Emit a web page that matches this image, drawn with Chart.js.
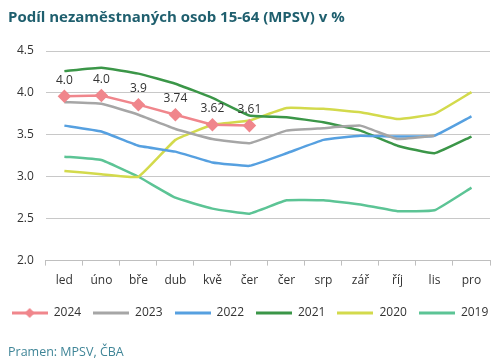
<!DOCTYPE html>
<html>
<head>
<meta charset="utf-8">
<script src="https://cdn.jsdelivr.net/npm/chart.js@4/dist/chart.umd.min.js"></script>
<style>
  body { margin: 0; background: #fff; }
  #wrap { position: relative; width: 500px; height: 361px; font-family: 'Open Sans', sans-serif; }
  #title { position: absolute; left: 8px; top: 6px; font-size: 15px; font-weight: bold; color: #1f5f6e; }
  #source { position: absolute; left: 8px; top: 343px; font-size: 12.5px; color: #3f8597; }
  canvas { position: absolute; left: 0; top: 0; }
</style>
</head>
<body>
<div id="wrap">
  <canvas id="chart" width="500" height="361"></canvas>
  <div id="title">Podíl nezaměstnaných osob 15-64 (MPSV) v %</div>
  <div id="source">Pramen: MPSV, ČBA</div>
</div>
<script>
const months = ['led', 'úno', 'bře', 'dub', 'kvě', 'čer', 'čer', 'srp', 'zář', 'říj', 'lis', 'pro']
const y2024 = [3.96, 3.97, 3.86, 3.74, 3.62, 3.61, null, null, null, null, null, null]
const labels2024 = ['4.0', '4.0', '3.9', '3.74', '3.62', '3.61']
const y2023 = [3.89, 3.87, 3.74, 3.57, 3.45, 3.40, 3.55, 3.58, 3.61, 3.45, 3.49, null]
const y2022 = [3.61, 3.54, 3.37, 3.30, 3.17, 3.13, 3.28, 3.44, 3.49, 3.48, 3.49, 3.72]
const y2021 = [4.26, 4.30, 4.23, 4.11, 3.94, 3.73, 3.71, 3.65, 3.55, 3.37, 3.28, 3.48]
const y2020 = [3.07, 3.03, 3.00, 3.44, 3.62, 3.67, 3.82, 3.81, 3.77, 3.69, 3.75, 4.01]
const y2019 = [3.24, 3.20, 3.00, 2.75, 2.62, 2.56, 2.72, 2.72, 2.67, 2.59, 2.60, 2.87]
const yTicks = [2.0, 2.5, 3.0, 3.5, 4.0, 4.5]

const colors = {
  2024: '#f0868c',
  2023: '#a6a6a6',
  2022: '#56a0e0',
  2021: '#3b9648',
  2020: '#d3da4c',
  2019: '#5cc495'
}

// small legend swatch: line with optional diamond
function swatch (color, marker) {
  const c = document.createElement('canvas')
  c.width = 36
  c.height = 12
  const ctx = c.getContext('2d')
  ctx.strokeStyle = color
  ctx.lineWidth = 3
  ctx.beginPath()
  ctx.moveTo(0, 6)
  ctx.lineTo(36, 6)
  ctx.stroke()
  if (marker) {
    ctx.fillStyle = color
    ctx.beginPath()
    ctx.moveTo(18, 1)
    ctx.lineTo(23, 6)
    ctx.lineTo(18, 11)
    ctx.lineTo(13, 6)
    ctx.closePath()
    ctx.fill()
  }
  return c
}

function series (label, data, color) {
  return {
    label: label,
    data: data,
    borderColor: color,
    backgroundColor: color,
    borderWidth: 2.5,
    pointRadius: 0,
    tension: 0.1,
    spanGaps: false
  }
}

const ds2024 = series('2024', y2024, colors[2024])
ds2024.pointStyle = 'rectRot'
ds2024.pointRadius = 5
ds2024.pointHoverRadius = 5
ds2024.tension = 0
ds2024.order = 0

const datasets = [
  ds2024,
  series('2023', y2023, colors[2023]),
  series('2022', y2022, colors[2022]),
  series('2021', y2021, colors[2021]),
  series('2020', y2020, colors[2020]),
  series('2019', y2019, colors[2019])
]

const valueLabels = {
  id: 'valueLabels',
  afterDatasetsDraw (chart) {
    const ctx = chart.ctx
    const meta = chart.getDatasetMeta(0)
    ctx.save()
    ctx.font = '12px "Open Sans", sans-serif'
    ctx.fillStyle = '#333'
    ctx.textAlign = 'center'
    ctx.textBaseline = 'bottom'
    labels2024.forEach((t, i) => {
      const p = meta.data[i]
      ctx.fillText(t, p.x, p.y - 10)
    })
    ctx.restore()
  }
}

// keep the legend on one row: give it more room than the canvas, still centred at 250
const wideLegend = {
  id: 'wideLegend',
  afterInit (chart) {
    const lg = chart.legend
    const fit = lg.fit
    lg.fit = function () {
      this.maxWidth = chart.width + 100
      fit.call(this)
    }
  },
  afterLayout (chart) {
    const lg = chart.legend
    lg.left = -50
    lg.right = chart.width + 50
    lg.width = chart.width + 100
  }
}

new Chart(document.getElementById('chart'), {
  type: 'line',
  data: { labels: months, datasets: datasets },
  options: {
    responsive: false,
    animation: false,
    layout: { padding: { top: 51, left: 5, right: 10, bottom: 32 } },
    plugins: {
      tooltip: { enabled: false },
      legend: {
        position: 'bottom',
        labels: {
          usePointStyle: true,
          pointStyleWidth: 36,
          padding: 12,
          color: '#333',
          font: { family: 'Open Sans', size: 12 },
          generateLabels (chart) {
            return chart.data.datasets.map((d, i) => ({
              text: d.label,
              pointStyle: swatch(d.borderColor, i === 0),
              fontColor: '#333',
              datasetIndex: i,
              hidden: false,
              lineWidth: 0
            }))
          }
        }
      }
    },
    scales: {
      x: {
        offset: true,
        grid: { offset: true, drawOnChartArea: false, drawTicks: true, tickLength: 5, color: '#bfbfbf' },
        border: { color: '#bfbfbf' },
        ticks: { color: '#333', font: { family: 'Open Sans', size: 12 }, padding: 8 },
        afterFit (axis) { axis.height -= 1 }
      },
      y: {
        min: 2.0,
        max: 4.5,
        afterBuildTicks (axis) { axis.ticks = yTicks.map(v => ({ value: v })) },
        grid: { color: '#c8c8c8', drawTicks: false },
        border: { display: false },
        ticks: {
          color: '#333',
          font: { family: 'Open Sans', size: 12 },
          padding: 12,
          callback: v => v.toFixed(1)
        }
      }
    }
  },
  plugins: [valueLabels, wideLegend]
})
</script>
</body>
</html>
